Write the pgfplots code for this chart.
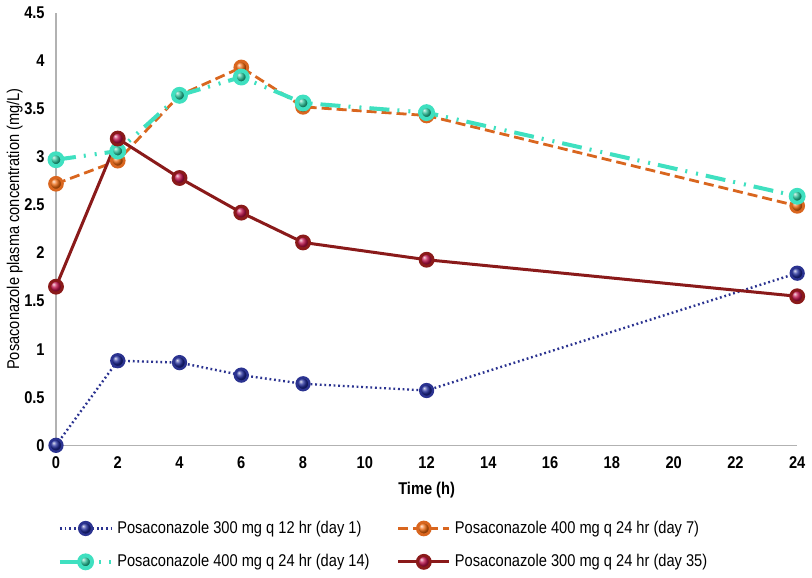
\documentclass[border=0pt]{standalone}
\usepackage{fontspec}
\setmainfont{Liberation Sans}[FakeStretch=0.86]
\usepackage{pgfplots}
\pgfplotsset{compat=1.18}
\usetikzlibrary{plotmarks}
\definecolor{navy}{HTML}{2B3390}
\definecolor{navymk}{HTML}{1F2A9A}
\definecolor{orng}{HTML}{D9661F}
\definecolor{orngmk}{HTML}{F06A10}
\definecolor{teal2}{HTML}{3FE0C0}
\definecolor{tealmk}{HTML}{20B890}
\definecolor{dred}{HTML}{8A1A1A}
\definecolor{dredmk}{HTML}{C0104A}
\begin{document}
\begin{tikzpicture}[font=\fontsize{8.5}{10}\selectfont]
\begin{axis}[
    scale only axis,
    width=370pt, height=216pt,
    xmin=0, xmax=24, ymin=0, ymax=4.5,
    xtick={0,2,...,24},
    ytick={0,0.5,...,4.5},
    yticklabel style={/pgf/number format/fixed},
    axis x line=bottom, axis y line=left,
    axis line style={gray!60, line width=0.8pt, -},
    tick style={draw=none},
    /pgf/number format/assume math mode=true,
    tick label style={font=\fontsize{8.5}{10}\selectfont\bfseries},
    xlabel={\textbf{Time (h)}},
    ylabel={Posaconazole plasma concentration (mg/L)},
    xlabel style={font=\fontsize{8.5}{10}\selectfont, yshift=0pt},
    ylabel style={font=\fontsize{8.5}{10}\selectfont, yshift=-6pt},
    clip=false,
    legend columns=2,
    legend style={draw=none, at={(-0.006,-0.155)}, anchor=north west,
        font=\fontsize{8.5}{10}\selectfont,
        /tikz/every even column/.append style={column sep=11.5pt},
        row sep=5pt},
    legend cell align=left,
    legend image code/.code={
        \draw[#1] (0cm,0cm) -- (0.9cm,0cm);
        \draw[#1, solid] plot coordinates {(0.45cm,0cm)};
    },
]
\addplot[navy, line width=1.2pt, dash pattern=on 0.9pt off 1.4pt, mark=ball, mark size=3.2pt,
    mark options={ball color=navymk, solid}]
coordinates {(0,0) (2,0.88) (4,0.86) (6,0.73) (8,0.64) (12,0.57) (24,1.79)};
\addlegendentry{Posaconazole 300 mg q 12 hr (day 1)}

\addplot[orng, line width=1.4pt, dash pattern=on 5pt off 2.5pt, mark=ball, mark size=3.2pt,
    mark options={ball color=orngmk, solid}]
coordinates {(0,2.72) (2,2.96) (4,3.64) (6,3.93) (8,3.52) (12,3.43) (24,2.49)};
\addlegendentry{Posaconazole 400 mg q 24 hr (day 7)}

\addplot[teal2, line width=2pt, dash pattern=on 10pt off 4pt on 1pt off 4.5pt on 1pt off 4pt, mark=ball, mark size=3.2pt,
    mark options={ball color=tealmk, solid}]
coordinates {(0,2.97) (2,3.06) (4,3.64) (6,3.83) (8,3.56) (12,3.46) (24,2.59)};
\addlegendentry{Posaconazole 400 mg q 24 hr (day 14)}

\addplot[dred, line width=1.5pt, solid, mark=ball, mark size=3.2pt,
    mark options={ball color=dredmk}]
coordinates {(0,1.65) (2,3.19) (4,2.78) (6,2.42) (8,2.11) (12,1.93) (24,1.55)};
\addlegendentry{Posaconazole 300 mg q 24 hr (day 35)}
\end{axis}
\end{tikzpicture}
\end{document}
